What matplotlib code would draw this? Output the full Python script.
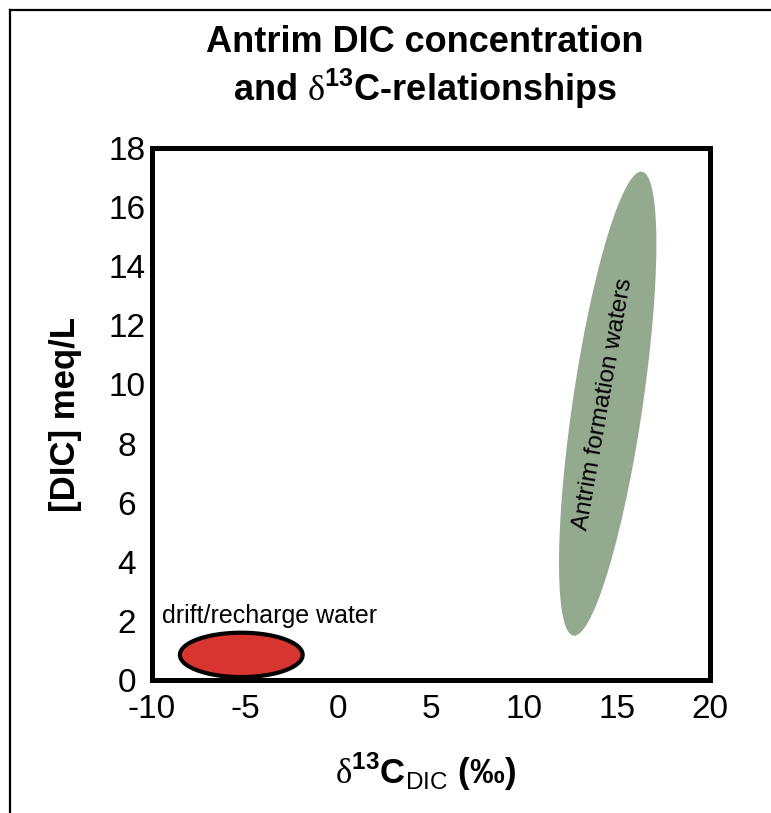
import numpy as np
import matplotlib
matplotlib.use("Agg")
import matplotlib.pyplot as plt
from matplotlib.lines import Line2D

plt.rcParams['font.family'] = ['Liberation Sans', 'DejaVu Sans']
plt.rcParams['axes.unicode_minus'] = False
plt.rcParams['mathtext.fontset'] = 'custom'
plt.rcParams['mathtext.rm'] = 'Liberation Serif'
plt.rcParams['mathtext.bf'] = 'Liberation Sans:bold'
plt.rcParams['mathtext.sf'] = 'Liberation Sans'

# axis ranges / ticks
x_ticks = [-10, -5, 0, 5, 10, 15, 20]
y_ticks = [0, 2, 4, 6, 8, 10, 12, 14, 16, 18]

# drift/recharge water field (center, full width, full height)
drift_center = (-5.2, 0.85)
drift_size = (6.6, 1.5)

# Antrim formation waters field (center, half-axis to top tip, horizontal half-width)
antrim_center = (14.5, 9.35)
antrim_tip = (1.8, 7.85)
antrim_halfwidth = 1.9

fig = plt.figure(figsize=(7.71, 8.13), dpi=100)
ax = fig.add_axes([152 / 771, 1 - 680 / 813, 558 / 771, 532 / 813])

# --- fields
t = np.linspace(0, 2 * np.pi, 300)
gx = antrim_center[0] + antrim_tip[0] * np.cos(t) + antrim_halfwidth * np.sin(t)
gy = antrim_center[1] + antrim_tip[1] * np.cos(t)
ax.fill(gx, gy, color='#93aa8e', lw=0, zorder=2)

rx = drift_center[0] + drift_size[0] / 2 * np.cos(t)
ry = drift_center[1] + drift_size[1] / 2 * np.sin(t)
ax.fill(rx, ry, facecolor='#d93530', edgecolor='black', lw=3, zorder=3, clip_on=False)

ax.text(-9.45, 2.15, 'drift/recharge water', fontsize=18, ha='left', va='center')
ax.text(antrim_center[0] - 0.25, antrim_center[1], 'Antrim formation waters',
        fontsize=17.5, rotation=80, ha='center', va='center', rotation_mode='anchor')

# --- axes
ax.set_xlim(x_ticks[0], x_ticks[-1])
ax.set_ylim(y_ticks[0], y_ticks[-1])
ax.set_xticks(x_ticks)
ax.set_yticks(y_ticks)
ax.tick_params(length=0, labelsize=24)
ax.tick_params(axis='x', pad=10)
ax.tick_params(axis='y', pad=18)
for lbl in ax.get_yticklabels():
    lbl.set_ha('center')
for s in ax.spines.values():
    s.set_linewidth(3.6)

ax.set_ylabel('[DIC] meq/L', fontsize=25, fontweight='bold')
ax.yaxis.set_label_coords((66 - 152) / 558, 0.5)
ax.yaxis.label.set_va('center')
ax.set_xlabel(r'$\mathrm{\delta}^{\mathbf{13}}\mathbf{C}_{\mathsf{DIC}}$ (‰)',
              fontsize=25, fontweight='bold')
ax.xaxis.set_label_coords((425 - 152) / 558, (680 - 772) / 532)
ax.xaxis.label.set_va('center')

fig.text(425 / 771, 1 - 68 / 813,
         'Antrim DIC concentration\n' + r'and $\mathrm{\delta}^{\mathbf{13}}$C-relationships',
         fontsize=26, fontweight='bold', ha='center', va='center', linespacing=1.2)

# frame around the figure (left and top edges)
fig.add_artist(Line2D([10 / 771, 10 / 771], [0, 1 - 10 / 813], color='black', lw=1.6))
fig.add_artist(Line2D([10 / 771, 1], [1 - 10 / 813, 1 - 10 / 813], color='black', lw=1.6))

fig.savefig('out.png', dpi=100)
